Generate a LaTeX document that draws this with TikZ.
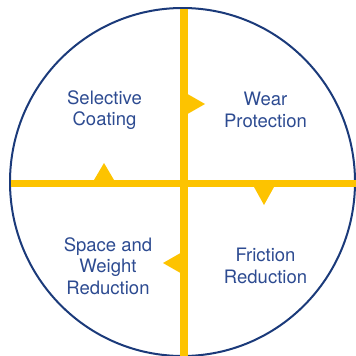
\documentclass[tikz,border=0pt]{standalone}
\usepackage{fontspec}
\setmainfont{TeX Gyre Heros}
\usetikzlibrary{positioning}
\definecolor{ringblue}{RGB}{27,58,122}
\definecolor{textblue}{RGB}{45,75,145}
\definecolor{crossyellow}{RGB}{253,195,0}
\tikzset{ring/.style={
            draw=ringblue,
            line width=2pt
        },
        cross/.style={
            draw=crossyellow,
            line width=7.5pt
        },
        marker/.style={
            fill=crossyellow
        },
        quadtext/.style={
            text=textblue,
            font=\fontsize{18.5}{21.7}\selectfont,
            align=center,
            inner sep=0pt
        }
    }

\begin{document}
\begin{tikzpicture}[x=1pt,y=-1pt]
        \useasboundingbox (0,0) rectangle (356,356);

        \draw[ring] (182.5,182) ellipse (172.5pt and 174pt);
        \draw[cross] (11,183.5) -- (356,183.5);
        \draw[cross] (184,9) -- (184,356);

        % arrow heads on the cross, clockwise
        \fill[marker] (94,180) -- (104,163) -- (114,180) -- cycle;
        \fill[marker] (187.5,94) -- (205,104) -- (187.5,114) -- cycle;
        \fill[marker] (254,187) -- (264,205) -- (274,187) -- cycle;
        \fill[marker] (180.5,253) -- (163,263) -- (180.5,273) -- cycle;

        \node[quadtext] (coating) at (104.5,110) {Selective\\Coating};
        \node[quadtext] (wear) at (265.5,110) {Wear\\Protection};
        \node[quadtext] (weight) at (108,266) {Space and\\Weight\\Reduction};
        \node[quadtext] (friction) at (265.5,266) {Friction\\Reduction};

    \end{tikzpicture}
\end{document}
